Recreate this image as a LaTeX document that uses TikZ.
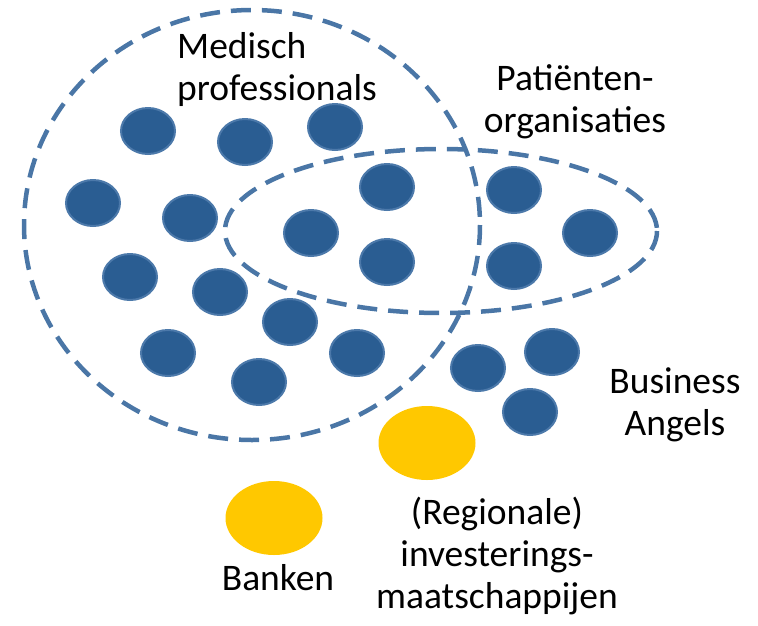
\documentclass[tikz,border=0pt]{standalone}
\usepackage{fontspec}
\setmainfont{Carlito}
\usepackage{tikz}
\usetikzlibrary{positioning}
\usetikzlibrary{shapes.geometric}
\definecolor{dotblue}{HTML}{2A5D92}
\definecolor{rimblue}{HTML}{4C79AA}
\definecolor{dashblue}{HTML}{4A76A6}
\definecolor{goldyellow}{HTML}{FFC800}
\tikzset {
  % stakeholder dot
  member/.style = {draw=rimblue, fill=dotblue, line width=2pt, ellipse,
    minimum width=54pt, minimum height=46pt, inner sep=0pt},
  % financiers
  lender/.style = {fill=goldyellow, ellipse, minimum width=97pt,
    minimum height=74pt, inner sep=0pt},
  % dashed group borders
  group/.style = {dashblue, line width=4.5pt, dash pattern=on 20pt off 11pt},
  % labels (anchored at the baseline of the last line)
  tag/.style = {font=\fontsize{37.5}{42}\selectfont, inner sep=0pt, anchor=base},
}

\begin{document}
\begin{tikzpicture}[x=1pt, y=-1pt]
        \useasboundingbox (0,0) rectangle (758,625);

        % Medisch professionals
        \node[member] (1) at (148, 131) {};
        \node[member] (2) at (245, 142) {};
        \node[member] (3) at (335, 127) {};
        \node[member] (4) at (93, 203) {};
        \node[member] (5) at (190, 218) {};
        \node[member] (6) at (311, 233) {};
        \node[member] (7) at (387, 187) {};
        \node[member] (8) at (387, 262) {};
        \node[member] (9) at (130, 277) {};
        \node[member] (10) at (220, 292) {};
        \node[member] (11) at (290, 322) {};
        \node[member] (12) at (168, 353) {};
        \node[member] (13) at (357, 353) {};
        \node[member] (14) at (259, 382) {};

        % Patienten
        \node[member] (15) at (514, 190) {};
        \node[member] (16) at (590, 233) {};
        \node[member] (17) at (514, 266) {};

        % Business Angels
        \node[member] (18) at (478, 368) {};
        \node[member] (19) at (552, 352) {};
        \node[member] (20) at (530, 412) {};

        \node[lender] (invest) at (427, 443) {};
        \node[lender] (bank) at (274, 518) {};

        \draw[group] (252, 225) ellipse (228 and 215);
        \draw[group] (441, 231) ellipse (216 and 82);

        \node[tag, anchor=base west, align=left] (medtxt) at (177, 100) {Medisch\\professionals};
        \node[tag, align=center] (pattxt) at (575, 132) {Patiënten-\\organisaties};
        \node[tag, align=center] (angtxt) at (675, 435) {Business\\Angels};
        \node[tag, align=center] (invtxt) at (497, 608) {(Regionale)\\investerings-\\maatschappijen};
        \node[tag] (banktxt) at (278, 590) {Banken};
\end{tikzpicture}
\end{document}
